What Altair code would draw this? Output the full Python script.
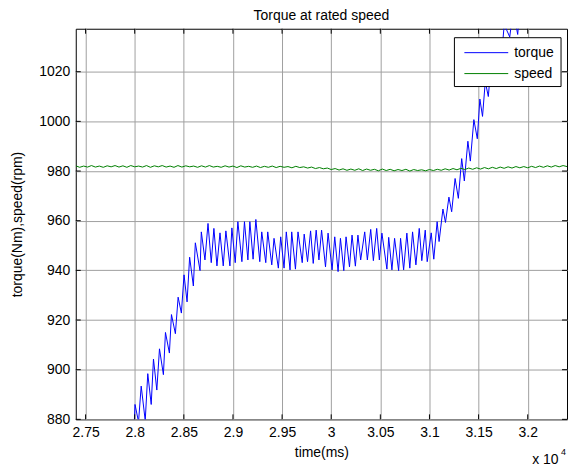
import altair as alt
import pandas as pd

# ---------------- data ----------------
title_text = "Torque at rated speed"
x_title = "time(ms)"
y_title = "torque(Nm),speed(rpm)"
series_names = ["torque", "speed"]
series_colors = ["#0000ff", "#008000"]

x_ticks = [27500, 28000, 28500, 29000, 29500, 30000, 30500, 31000, 31500, 32000]
y_ticks = [880, 900, 920, 940, 960, 980, 1000, 1020]
x_domain = [27400, 32400]
y_domain = [880, 1037.3]

torque_t = [27993, 28003, 28039, 28066, 28107, 28133, 28168, 28191, 28225, 28252,
            28292, 28313, 28353, 28374, 28414, 28442, 28475, 28502, 28533, 28559,
            28597, 28617, 28665, 28678, 28715, 28746, 28779, 28806, 28837, 28868,
            28901, 28928, 28969, 28989, 29023, 29050, 29091, 29117, 29152, 29172,
            29205, 29233, 29273, 29293, 29334, 29354, 29395, 29418, 29462, 29486,
            29520, 29543, 29581, 29598, 29636, 29662, 29705, 29725, 29759, 29790,
            29817, 29847, 29875, 29902, 29942, 29968, 30009, 30036, 30070, 30094,
            30128, 30151, 30186, 30212, 30246, 30272, 30300, 30341, 30368, 30402,
            30429, 30463, 30490, 30516, 30567, 30585, 30618, 30645, 30686, 30706,
            30737, 30770, 30800, 30828, 30862, 30896, 30922, 30957, 30977, 31018,
            31044, 31078, 31098, 31137, 31163, 31198, 31226, 31261, 31294, 31328,
            31355, 31391, 31416, 31452, 31487, 31513, 31540, 31568, 31599, 31629,
            31660, 31695, 31731, 31761, 31817, 31852, 31898, 31934, 32005]
torque_v = [876.0, 886.0, 879.0, 893.4, 879.5, 898.4, 886.0, 904.3, 891.8, 908.4,
            898.0, 915.0, 906.7, 922.2, 914.5, 929.2, 922.8, 938.2, 927.3, 945.3,
            933.7, 951.1, 939.9, 955.5, 944.2, 958.9, 943.1, 956.9, 941.8, 955.1,
            941.8, 955.9, 941.8, 957.1, 943.1, 959.6, 943.5, 959.6, 944.2, 959.6,
            944.5, 960.5, 943.5, 955.5, 943.1, 955.5, 942.2, 952.9, 940.9, 953.5,
            940.9, 955.5, 940.2, 955.5, 940.5, 955.5, 943.1, 954.6, 943.5, 955.9,
            942.8, 956.2, 944.2, 956.2, 941.4, 955.0, 940.2, 953.5, 939.5, 952.9,
            939.9, 953.5, 941.4, 954.2, 941.7, 954.2, 944.2, 955.5, 944.2, 956.5,
            943.9, 956.9, 944.2, 955.0, 940.5, 953.3, 940.2, 952.9, 939.9, 952.9,
            940.2, 955.0, 940.9, 955.5, 942.2, 956.9, 943.9, 956.2, 943.5, 955.1,
            944.5, 959.6, 951.6, 964.7, 959.3, 969.5, 963.6, 977.0, 969.0, 985.0,
            976.0, 992.0, 984.0, 1000.7, 993.0, 1009.0, 1002.0, 1016.0, 1010.0, 1024.0,
            1017.0, 1031.0, 1025.0, 1039.0, 1034.0, 1045.0, 1035.0, 1052.0, 1065.0]

speed_t0 = 27400
speed_step = 40
speed_v = [982.1, 981.5, 982.0, 981.6, 982.2, 981.6, 982.0, 981.5, 982.1, 981.7,
           982.2, 981.6, 982.1, 981.5, 982.2, 981.7, 982.0, 981.6, 982.2, 981.5,
           982.1, 981.7, 982.2, 981.6, 982.0, 981.5, 982.2, 981.6, 982.1, 981.7,
           982.0, 981.5, 982.1, 981.6, 982.2, 981.6, 981.9, 981.5, 982.1, 981.6,
           982.0, 981.4, 982.1, 981.6, 981.9, 981.5, 982.0, 981.4, 981.9, 981.5,
           982.0, 981.4, 981.9, 981.5, 981.8, 981.3, 981.9, 981.4, 981.7, 981.2,
           981.6, 981.0, 981.4, 980.9, 981.2, 980.6, 981.0, 980.4, 980.9, 980.3,
           980.8, 980.3, 980.9, 980.2, 980.8, 980.3, 980.7, 980.1, 980.8, 980.2,
           980.7, 980.1, 980.6, 980.2, 980.7, 980.0, 980.6, 980.2, 980.5, 980.1,
           980.6, 980.2, 980.7, 980.3, 980.9, 980.4, 981.0, 980.5, 981.1, 980.6,
           981.2, 980.7, 981.3, 980.8, 981.4, 980.9, 981.5, 981.0, 981.6, 981.1,
           981.7, 981.2, 981.8, 981.3, 981.8, 981.3, 981.9, 981.4, 982.0, 981.5,
           982.1, 981.6, 982.2, 981.7, 982.2, 981.8]
speed_t = [speed_t0 + speed_step * i for i in range(len(speed_v))]

# ---------------- layout ----------------
W, H = 493, 392
FONT = "Liberation Sans"
FS = 14
GRID = "#a0a0a0"

torque_df = pd.DataFrame({"t": torque_t, "v": torque_v, "series": series_names[0]})
speed_df = pd.DataFrame({"t": speed_t, "v": speed_v, "series": series_names[1]})
xt_df = pd.DataFrame({"t": x_ticks})
yt_df = pd.DataFrame({"v": y_ticks})

xs = alt.Scale(domain=x_domain, nice=False, zero=False)
ys = alt.Scale(domain=y_domain, nice=False, zero=False)

common_axis = dict(grid=True, ticks=False, domain=False, labelPadding=6,
                   labelFont=FONT, labelFontSize=FS, labelColor="black",
                   titleFont=FONT, titleFontSize=FS, titleColor="black",
                   titleFontWeight="normal", gridColor=GRID, gridWidth=1,
                   gridOpacity=1)

x_axis = alt.Axis(values=x_ticks, labelExpr="format(datum.value / 10000, '~g')",
                  title=x_title, titleY=33, titleBaseline="middle", **common_axis)
y_axis = alt.Axis(values=y_ticks, format="d",
                  title=y_title, titleX=-58, titleBaseline="middle", titleAngle=270,
                  **common_axis)

X = alt.X("t:Q", scale=xs, axis=x_axis)
Y = alt.Y("v:Q", scale=ys, axis=y_axis)

torque_line = alt.Chart(torque_df).mark_line(clip=True, strokeWidth=1, color=series_colors[0]).encode(
    x=X, y=Y)
speed_line = alt.Chart(speed_df).mark_line(clip=True, strokeWidth=1, color=series_colors[1]).encode(
    x=X, y=Y)

# inward ticks (MATLAB style)
tick_len = 5
xt_bottom = alt.Chart(xt_df).mark_rule(color="black", strokeWidth=1).encode(
    x=X, y=alt.value(H), y2=alt.value(H - tick_len))
xt_top = alt.Chart(xt_df).mark_rule(color="black", strokeWidth=1).encode(
    x=X, y=alt.value(0), y2=alt.value(tick_len))
yt_left = alt.Chart(yt_df).mark_rule(color="black", strokeWidth=1).encode(
    y=Y, x=alt.value(0), x2=alt.value(tick_len))
yt_right = alt.Chart(yt_df).mark_rule(color="black", strokeWidth=1).encode(
    y=Y, x=alt.value(W - tick_len), x2=alt.value(W))

one = pd.DataFrame({"a": [0]})

title_mark = alt.Chart(pd.DataFrame({"txt": [title_text]})).mark_text(
    font=FONT, fontSize=FS, color="black", align="center", baseline="middle").encode(
    text="txt:N", x=alt.value(W / 2), y=alt.value(-13))

exp_main = alt.Chart(pd.DataFrame({"txt": ["x 10"]})).mark_text(
    font=FONT, fontSize=FS, color="black", align="left", baseline="middle").encode(
    text="txt:N", x=alt.value(458), y=alt.value(433))
exp_sup = alt.Chart(pd.DataFrame({"txt": ["4"]})).mark_text(
    font=FONT, fontSize=9, color="black", align="left", baseline="middle").encode(
    text="txt:N", x=alt.value(487), y=alt.value(425))

# manual legend (MATLAB style box)
legend_box = alt.Chart(one).mark_rect(fill="white", stroke="black", strokeWidth=1).encode(
    x=alt.value(380), x2=alt.value(487), y=alt.value(9), y2=alt.value(58))
legend_layers = [legend_box]
row_y = [24, 45]
for name, col, yy in zip(series_names, series_colors, row_y):
    legend_layers.append(alt.Chart(one).mark_rule(color=col, strokeWidth=1).encode(
        x=alt.value(390), x2=alt.value(434), y=alt.value(yy)))
    legend_layers.append(alt.Chart(pd.DataFrame({"txt": [name]})).mark_text(
        font=FONT, fontSize=FS, color="black", align="left", baseline="middle").encode(
        text="txt:N", x=alt.value(440), y=alt.value(yy)))

chart = alt.layer(
    torque_line, speed_line, xt_bottom, xt_top, yt_left, yt_right,
    *legend_layers, title_mark, exp_main, exp_sup
).properties(
    width=W, height=H,
    background="white",
    autosize=alt.AutoSizeParams(type="none"),
    padding={"left": 68, "top": 20, "right": 4, "bottom": 50},
).configure_view(
    stroke="black", strokeWidth=1
)

chart.save("out.html", embed_options={"renderer": "svg", "actions": False})
